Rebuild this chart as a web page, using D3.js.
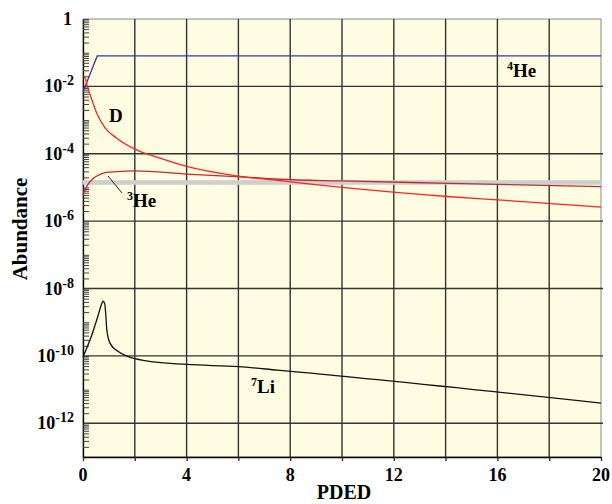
<!DOCTYPE html>
<html>
<head>
<meta charset="utf-8">
<script src="https://cdn.jsdelivr.net/npm/d3@7"></script>
<style>
  body { margin: 0; background: #fff; }
  text { font-family: "Liberation Serif", "Times New Roman", serif; font-weight: bold; fill: #000; }
</style>
</head>
<body>
<div id="chart"></div>
<script>
// abundances, [PDED, abundance]
const he4 = [[0, 0.0069], [0.55, 0.08], [20, 0.08]];
const deut = [[0, 0.02], [0.08, 0.018], [0.17, 0.01], [0.34, 0.004], [0.53, 0.0016], [0.85, 5.9e-4],
  [1.3, 2.9e-4], [2.07, 1.3e-4], [2.97, 7.4e-5], [4, 4.2e-5], [5.93, 2.2e-5], [7.6, 1.6e-5],
  [10, 1.0e-5], [14.2, 5.3e-6], [16, 4.3e-6], [20, 2.6e-6]];
const he3 = [[0, 6e-6], [0.14, 1.06e-5], [0.4, 1.87e-5], [0.66, 2.45e-5], [0.9, 2.8e-5], [1.3, 2.95e-5],
  [2, 3.1e-5], [4, 2.5e-5], [5.9, 2.1e-5], [7.6, 1.75e-5], [10, 1.56e-5], [14.2, 1.33e-5], [20, 1.06e-5]];
const li7 = [[0, 9.3e-11], [0.34, 4.2e-10], [0.59, 1.65e-9], [0.72, 3.5e-9], [0.78, 4.2e-9], [0.84, 3.5e-9],
  [0.88, 1.65e-9], [0.92, 5.9e-10], [1.04, 2.4e-10], [1.36, 1.35e-10], [1.75, 9.5e-11], [2.39, 7.2e-11],
  [4, 5.6e-11], [6, 4.8e-11], [7.5, 3.8e-11], [20, 4e-12]];
// observed band (grey)
const band = [1.2e-5, 1.65e-5];

const xGrid = [0, 2, 4, 6, 8, 10, 12, 14, 16, 18, 20];
const xLabels = [0, 4, 8, 12, 16, 20];
const yExps = [0, -2, -4, -6, -8, -10, -12];

const width = 612, height = 504;
const mLeft = 83, mRight = 601, mTop = 19, mBottom = 457;

const svg = d3.select("#chart").append("svg")
  .attr("width", width).attr("height", height);

const x = d3.scaleLinear().domain([0, 20]).range([mLeft, mRight]);
const y = d3.scaleLog().domain([1e-13, 1]).range([mBottom, mTop]);

// plot background
svg.append("rect")
  .attr("x", mLeft).attr("y", mTop)
  .attr("width", mRight - mLeft).attr("height", mBottom - mTop)
  .attr("fill", "#fffde1").attr("stroke", "#888").attr("stroke-width", 1);

// grid
svg.append("g").selectAll("line")
  .data(xGrid.slice(1, -1)).enter().append("line")
  .attr("x1", d => x(d)).attr("x2", d => x(d))
  .attr("y1", mTop).attr("y2", mBottom)
  .attr("stroke", "#333").attr("stroke-width", 1.4);

svg.append("g").selectAll("line")
  .data(yExps.slice(1)).enter().append("line")
  .attr("x1", mLeft).attr("x2", mRight + 2)
  .attr("y1", d => y(Math.pow(10, d))).attr("y2", d => y(Math.pow(10, d)))
  .attr("stroke", "#333").attr("stroke-width", 1.4);

// axes
const yAxis = svg.append("g")
  .attr("transform", `translate(${mLeft},0)`)
  .call(d3.axisLeft(y).tickValues(y.ticks(100)).tickSize(-6).tickFormat("").tickSizeOuter(0));
yAxis.selectAll("line").attr("stroke", "#444");
yAxis.select(".domain").attr("stroke", "#000").attr("stroke-width", 1.3);

const xAxis = svg.append("g")
  .attr("transform", `translate(0,${mBottom})`)
  .call(d3.axisBottom(x).tickValues(xGrid).tickSize(4).tickFormat("").tickSizeOuter(0));
xAxis.selectAll("line").attr("stroke", "#333").attr("stroke-width", 1.4);
xAxis.select(".domain").attr("stroke", "#000").attr("stroke-width", 1.3);

// x tick labels
svg.append("g").selectAll("text")
  .data(xLabels).enter().append("text")
  .attr("x", d => x(d)).attr("y", 481)
  .attr("text-anchor", "middle").attr("font-size", 18)
  .text(d => d);

// y tick labels with superscripts
const yl = svg.append("g").selectAll("text")
  .data(yExps).enter().append("text")
  .attr("x", 74).attr("y", d => y(Math.pow(10, d)) + 6)
  .attr("text-anchor", "end").attr("font-size", 18);
yl.each(function(d) {
  const t = d3.select(this);
  if (d === 0) { t.attr("x", 72).text("1"); return; }
  t.append("tspan").text("10");
  t.append("tspan").attr("font-size", 14).attr("dy", -7).text(d);
});

// axis titles
svg.append("text")
  .attr("x", 344).attr("y", 499)
  .attr("text-anchor", "middle").attr("font-size", 20)
  .text("PDED");
svg.append("text")
  .attr("transform", "translate(27,229) rotate(-90)")
  .attr("text-anchor", "middle").attr("font-size", 21)
  .text("Abundance");

// grey band
svg.append("rect")
  .attr("x", x(0)).attr("width", x(20) - x(0))
  .attr("y", y(band[1])).attr("height", y(band[0]) - y(band[1]))
  .attr("fill", "#cfcfcf");

const line = d3.line().x(d => x(d[0])).y(d => y(d[1]));
const smooth = d3.line().x(d => x(d[0])).y(d => y(d[1])).curve(d3.curveMonotoneX);

svg.append("path").datum(he4).attr("d", line)
  .attr("fill", "none").attr("stroke", "#3434a6").attr("stroke-width", 1.3);
svg.append("path").datum(he3).attr("d", smooth)
  .attr("fill", "none").attr("stroke", "#c02c2c").attr("stroke-width", 1.3);
svg.append("path").datum(deut).attr("d", smooth)
  .attr("fill", "none").attr("stroke", "#ff2222").attr("stroke-width", 1.3);
svg.append("path").datum(li7).attr("d", smooth)
  .attr("fill", "none").attr("stroke", "#111").attr("stroke-width", 1.3);

// curve labels
function label(tx, ty, sup, main) {
  const t = svg.append("text").attr("x", tx).attr("y", ty).attr("font-size", 19);
  if (sup) t.append("tspan").attr("font-size", 12).attr("dy", -7).text(sup);
  t.append("tspan").attr("dy", sup ? 7 : 0).text(main);
}
label(507, 77, "4", "He");
label(109, 122, null, "D");
label(127, 207, "3", "He");
label(251, 393, "7", "Li");

// leader line for 3He
svg.append("line")
  .attr("x1", 108).attr("y1", 176).attr("x2", 122).attr("y2", 193)
  .attr("stroke", "#222").attr("stroke-width", 1);
</script>
</body>
</html>
